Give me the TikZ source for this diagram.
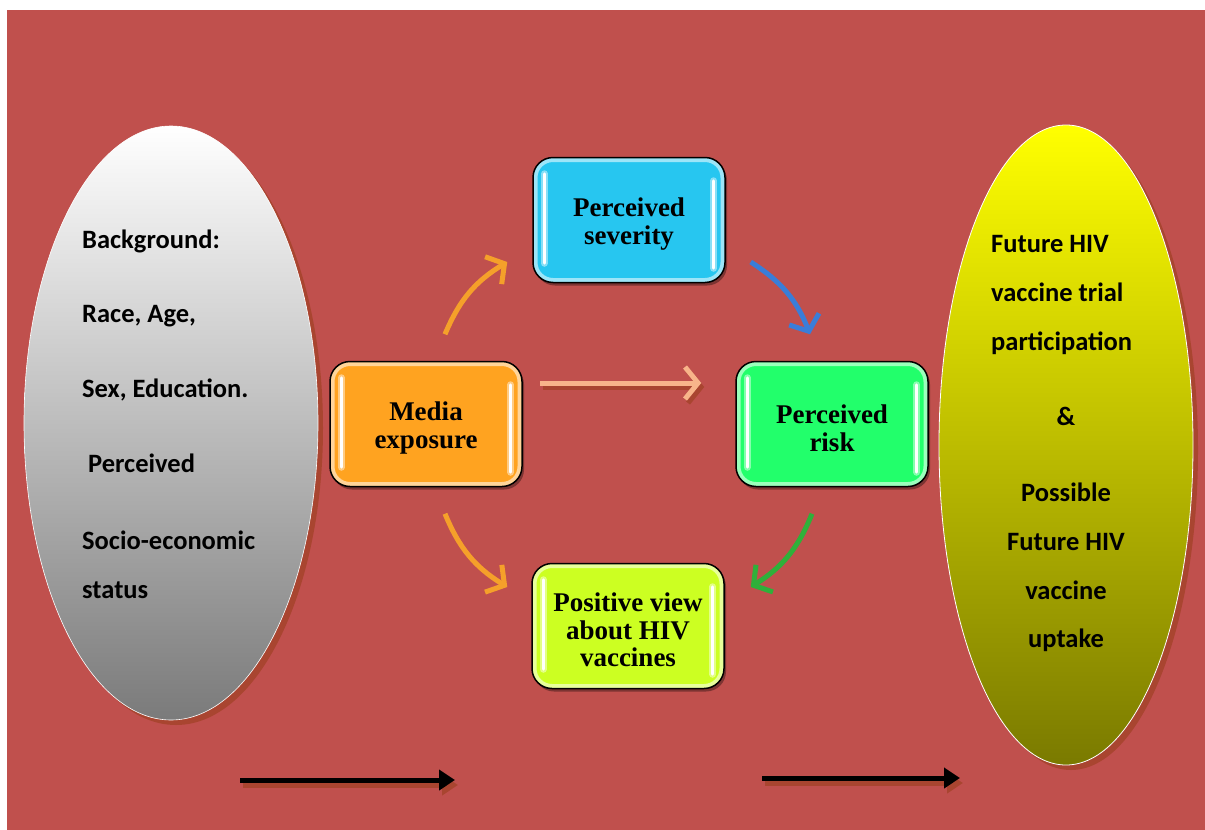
\documentclass[tikz,border=0pt]{standalone}
\usepackage{fontspec}
\setmainfont{Liberation Serif}
\newfontfamily\calfont{Carlito}
\usetikzlibrary{arrows.meta,shapes.geometric,shadows}
\definecolor{bgred}{HTML}{C0504D}
\definecolor{shred}{HTML}{A94530}
\definecolor{sevc}{HTML}{27C6F0}
\definecolor{medc}{HTML}{FFA320}
\definecolor{riskc}{HTML}{22FF6B}
\definecolor{posc}{HTML}{CCFF22}
\definecolor{arrorange}{HTML}{F5A02A}
\definecolor{arrblue}{HTML}{3A7DD8}
\definecolor{arrgreen}{HTML}{2FB03A}
\definecolor{arrpeach}{HTML}{F8B48A}
\definecolor{olivebot}{HTML}{7A7A00}
\definecolor{yelmid}{HTML}{E0E000}
\tikzset{
  gbox/.style={rectangle, rounded corners=20pt, draw=black, line width=1.5pt,
    minimum width=192pt, minimum height=125pt, inner sep=2pt, align=center,
    font=\fontsize{27}{27.5}\selectfont\bfseries,
    drop shadow={shadow xshift=2pt,shadow yshift=-3pt,fill=black,opacity=.35},
    path picture={\draw[white,opacity=.55,line width=9pt,rounded corners=20pt]
      (path picture bounding box.south west) rectangle (path picture bounding box.north east);}},
  hlglow/.style={white,opacity=.45,line width=7pt,line cap=round},
  hl/.style={white,line width=2.8pt,line cap=round},
  eltext/.style={font=\calfont\fontsize{26.5}{26.5}\selectfont\bfseries, inner sep=0pt},
  carr/.style={line width=5pt, -{Straight Barb[length=13pt,width=32pt]}},
  blarr/.style={line width=5pt, -{Triangle[length=16pt,width=20pt]}},
  shadowarr/.style={line width=5pt, shred}
}
\newcommand\glossy[4]{%
  \node[gbox,fill=#3] (#1) at #2 {\rule{0pt}{27pt}#4};
  \draw[hlglow] ([xshift=12pt,yshift=-17pt]#1.north west) -- ([xshift=12pt,yshift=20pt]#1.south west);
  \draw[hl] ([xshift=12pt,yshift=-17pt]#1.north west) -- ([xshift=12pt,yshift=20pt]#1.south west);
  \draw[hlglow] ([xshift=-12pt,yshift=-24pt]#1.north east) -- ([xshift=-12pt,yshift=15pt]#1.south east);
  \draw[hl] ([xshift=-12pt,yshift=-24pt]#1.north east) -- ([xshift=-12pt,yshift=15pt]#1.south east);
}
\begin{document}
\begin{tikzpicture}[x=1pt,y=-1pt]
\useasboundingbox (0,0) rectangle (1205,830);
\fill[bgred] (7,10) rectangle (1205,830);

% ellipses
\node[ellipse, minimum width=294pt, minimum height=594pt, inner sep=0pt,
  draw=white, line width=0.6pt, top color=white, middle color=white!88!black,
  bottom color=white!48!black,
  drop shadow={shadow xshift=5pt,shadow yshift=-5pt,fill=shred,opacity=1}] (bgell) at (171,423) {};
\node[ellipse, minimum width=254pt, minimum height=640pt, inner sep=0pt,
  draw=white, line width=0.8pt, top color=yellow, middle color=yelmid,
  bottom color=olivebot,
  drop shadow={shadow xshift=5pt,shadow yshift=-5pt,fill=shred,opacity=1}] (outell) at (1066,445) {};

% left texts
\node[eltext, anchor=base west] (t1) at (82,248) {Background:};
\node[eltext, anchor=base west] (t2) at (82,322) {Race, Age,};
\node[eltext, anchor=base west] (t3) at (82,397) {Sex, Education.};
\node[eltext, anchor=base west] (t4) at (88,472) {Perceived};
\node[eltext, anchor=base west] (t5) at (82,549) {Socio-economic};
\node[eltext, anchor=base west] (t6) at (82,598) {status};

% right texts
\node[eltext, anchor=base west] (r1) at (991,252) {Future HIV};
\node[eltext, anchor=base west] (r2) at (991,301) {vaccine trial};
\node[eltext, anchor=base west] (r3) at (991,350) {participation};
\node[eltext, anchor=base] (r4) at (1066,425) {\&};
\node[eltext, anchor=base] (r5) at (1066,501) {Possible};
\node[eltext, anchor=base] (r6) at (1066,550) {Future HIV};
\node[eltext, anchor=base] (r7) at (1066,599) {vaccine};
\node[eltext, anchor=base] (r8) at (1066,647) {uptake};

% boxes
\glossy{sev}{(629,220)}{sevc}{Perceived\\severity}
\glossy{med}{(426,424)}{medc}{Media\\exposure}
\glossy{risk}{(832,424)}{riskc}{Perceived\\risk}
\glossy{pos}{(628,626)}{posc}{Positive view\\about HIV\\vaccines}

% curved arrows
\draw[carr, arrorange] ([xshift=19pt,yshift=26.5pt]med.north) to[bend left=18] ([xshift=-25pt,yshift=-42pt]sev.west);
\draw[carr, arrblue] ([xshift=25pt,yshift=-42pt]sev.east) to[bend left=18] ([xshift=-22pt,yshift=26.5pt]risk.north);
\draw[carr, arrorange] ([xshift=19pt,yshift=-26.5pt]med.south) to[bend right=18] ([xshift=-24pt,yshift=39pt]pos.west);
\draw[carr, arrgreen] ([xshift=-20pt,yshift=-26.5pt]risk.south) to[bend left=18] ([xshift=26pt,yshift=39pt]pos.east);

% straight arrow with shadow
\draw[carr, shred] ([xshift=20pt,yshift=37pt]med.east) -- ([xshift=-31pt,yshift=37pt]risk.west);
\draw[carr, arrpeach] ([xshift=17pt,yshift=41pt]med.east) -- ([xshift=-34pt,yshift=41pt]risk.west);

% bottom black arrows
\coordinate (a1s) at (240,780);
\coordinate (a1e) at (455,780);
\coordinate (a2s) at (762,778);
\coordinate (a2e) at (960,778);
\draw[blarr, shred] ([xshift=3pt,yshift=-5pt]a1s) -- ([xshift=3pt,yshift=-5pt]a1e);
\draw[blarr, black] (a1s) -- (a1e);
\draw[blarr, shred] ([xshift=3pt,yshift=-5pt]a2s) -- ([xshift=3pt,yshift=-5pt]a2e);
\draw[blarr, black] (a2s) -- (a2e);
\end{tikzpicture}
\end{document}
